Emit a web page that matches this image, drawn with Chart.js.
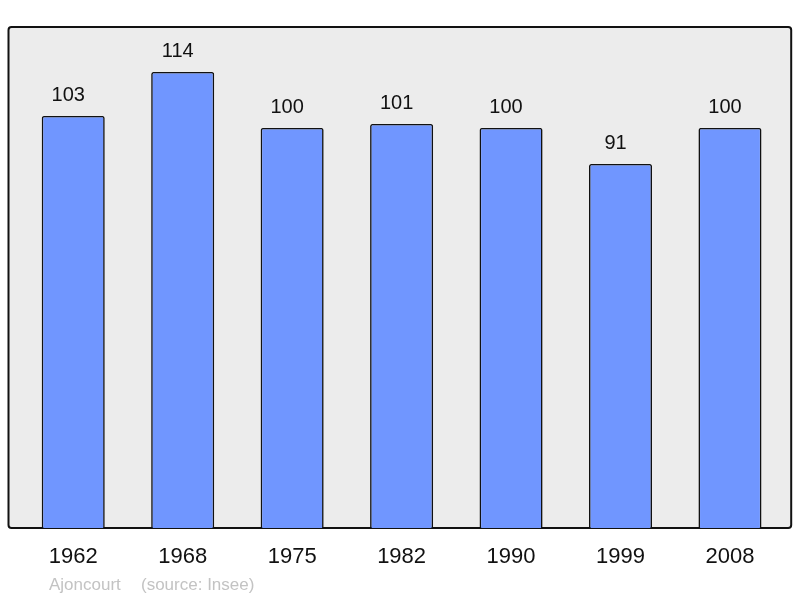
<!DOCTYPE html>
<html>
<head>
<meta charset="utf-8">
<script src="https://cdn.jsdelivr.net/npm/chart.js@4.4.0/dist/chart.umd.min.js"></script>
<style>
  html, body { margin: 0; padding: 0; background: #fff; }
  #wrap { width: 800px; height: 598px; }
</style>
</head>
<body>
<div id="wrap"><canvas id="popchart" width="800" height="598"></canvas></div>
<script>
// Population of Ajoncourt by census year
const years = ['1962', '1968', '1975', '1982', '1990', '1999', '2008'];
const population = [103, 114, 100, 101, 100, 91, 100];
const footerName = 'Ajoncourt';
const footerSource = '(source: Insee)';

// grey panel with black frame behind the bars
const panelPlugin = {
  id: 'panel',
  beforeDraw(chart) {
    const { ctx, chartArea } = chart;
    const x = chartArea.left - 10, y = chartArea.top - 1;
    const w = chartArea.right + 6.5 - x, h = chartArea.bottom - y;
    ctx.save();
    ctx.beginPath();
    ctx.roundRect(x, y, w, h, 3);
    ctx.fillStyle = '#ececec';
    ctx.fill();
    ctx.lineWidth = 2;
    ctx.strokeStyle = '#111';
    ctx.stroke();
    ctx.restore();
  },
  afterDatasetsDraw(chart) {
    const { ctx } = chart;
    const meta = chart.getDatasetMeta(0);
    ctx.save();
    ctx.font = '20px "Liberation Sans", Arial, sans-serif';
    ctx.fillStyle = '#111';
    ctx.textAlign = 'center';
    ctx.textBaseline = 'alphabetic';
    // labels sit a little left of the bar centre, like the original
    meta.data.forEach((bar, i) => {
      ctx.fillText(String(population[i]), bar.x - 5, bar.y - 15);
    });
    ctx.restore();
  },
  afterDraw(chart) {
    const { ctx } = chart;
    ctx.save();
    ctx.font = '17px "Liberation Sans", Arial, sans-serif';
    ctx.fillStyle = '#c3c3c3';
    ctx.textBaseline = 'alphabetic';
    ctx.fillText(footerName, 49, 590);
    ctx.fillText(footerSource, 141, 590);
    ctx.restore();
  }
};

new Chart(document.getElementById('popchart'), {
  type: 'bar',
  data: {
    labels: years,
    datasets: [{
      data: population,
      backgroundColor: '#7096ff',
      borderColor: '#111',
      borderWidth: 1.6,
      borderSkipped: 'bottom',
      borderRadius: { topLeft: 2, topRight: 2 },
      categoryPercentage: 1,
      barPercentage: 0.576
    }]
  },
  options: {
    responsive: false,
    animation: false,
    layout: { padding: { left: 18.5, right: 15.3, top: 28, bottom: 0 } },
    plugins: {
      legend: { display: false },
      tooltip: { enabled: false }
    },
    scales: {
      x: {
        grid: { display: false, drawTicks: false },
        border: { display: false },
        ticks: {
          color: '#111',
          padding: 16,
          maxRotation: 0,
          font: { family: '"Liberation Sans", Arial, sans-serif', size: 22 }
        },
        afterFit(axis) { axis.height = 70; }
      },
      y: {
        display: false,
        min: 0,
        max: 125
      }
    }
  },
  plugins: [panelPlugin]
});
</script>
</body>
</html>
